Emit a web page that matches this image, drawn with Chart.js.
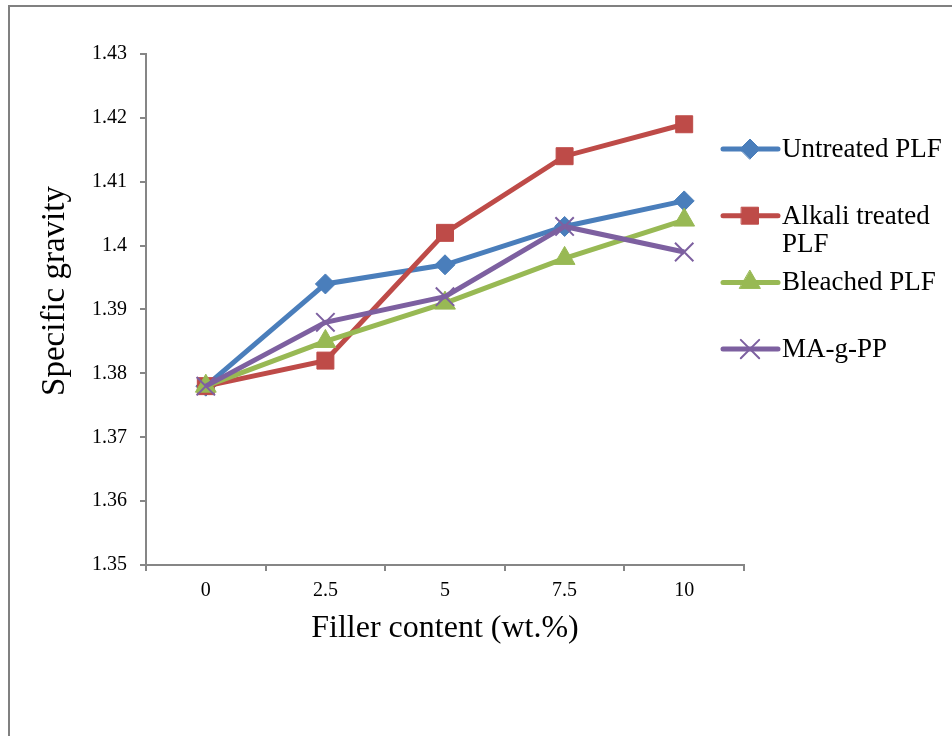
<!DOCTYPE html>
<html>
<head>
<meta charset="utf-8">
<style>
  html, body { margin: 0; padding: 0; background: #fff; }
  #wrap { width: 952px; height: 736px; position: relative; }
</style>
<script src="https://cdn.jsdelivr.net/npm/chart.js@4.4.0/dist/chart.umd.min.js"></script>
</head>
<body>
<div id="wrap"><canvas id="myChart" width="952" height="736"></canvas></div>
<script>
// values
const fillerContent = ['0', '2.5', '5', '7.5', '10'];
const seriesNames = ['Untreated PLF', 'Alkali treated PLF', 'Bleached PLF', 'MA-g-PP'];
const untreated = [1.378, 1.394, 1.397, 1.403, 1.407];
const alkaliTreated = [1.378, 1.382, 1.402, 1.414, 1.419];
const bleached = [1.378, 1.385, 1.391, 1.398, 1.404];
const maGpp = [1.378, 1.388, 1.392, 1.403, 1.399];
const yMin = 1.35, yMax = 1.43, yStep = 0.01;

const serif = "'Liberation Serif', 'Times New Roman', serif";
const axisGray = '#868686';

function series(label, data, color, style, radius, order) {
  return {
    label: label,
    data: data,
    borderColor: color,
    backgroundColor: color,
    borderWidth: 5,
    pointStyle: style,
    pointRadius: radius,
    pointBackgroundColor: color,
    pointBorderColor: color,
    pointBorderWidth: style === 'crossRot' ? 2 : 1,
    tension: 0,
    order: order
  };
}

const data = {
  labels: fillerContent,
  datasets: [
    series(seriesNames[0], untreated, '#4A7EBB', 'rectRot', 10, 4),
    series(seriesNames[1], alkaliTreated, '#BE4B48', 'rect', 12, 3),
    series(seriesNames[2], bleached, '#98B954', 'triangle', 12, 2),
    series(seriesNames[3], maGpp, '#7D60A0', 'crossRot', 13, 1)
  ]
};

// page frame + y title + legend on the right, drawn like the Excel original
const extras = {
  id: 'extras',
  beforeDraw(chart) {
    const ctx = chart.ctx;
    ctx.save();
    ctx.fillStyle = '#fff';
    ctx.fillRect(0, 0, chart.width, chart.height);
    ctx.fillStyle = '#808080';
    ctx.fillRect(8, 5, 2, chart.height - 5);
    ctx.fillRect(8, 5, chart.width - 8, 2);
    ctx.restore();
  },
  afterDraw(chart) {
    const ctx = chart.ctx;
    ctx.save();
    // y axis title
    ctx.fillStyle = '#000';
    ctx.font = '33px ' + serif;
    ctx.textAlign = 'center';
    ctx.textBaseline = 'alphabetic';
    ctx.translate(64, 291);
    ctx.rotate(-Math.PI / 2);
    ctx.fillText('Specific gravity', 0, 0);
    ctx.restore();

    // legend
    ctx.save();
    ctx.font = '27px ' + serif;
    ctx.textAlign = 'left';
    ctx.textBaseline = 'middle';
    chart.data.datasets.forEach((ds, i) => {
      const y = 149 + i * 66.7;
      ctx.strokeStyle = ds.borderColor;
      ctx.lineWidth = 5;
      ctx.lineCap = 'round';
      ctx.beginPath();
      ctx.moveTo(723, y);
      ctx.lineTo(778, y);
      ctx.stroke();
      ctx.fillStyle = ds.pointBackgroundColor;
      ctx.strokeStyle = ds.pointBorderColor;
      ctx.lineWidth = ds.pointBorderWidth;
      Chart.helpers.drawPoint(ctx, {
        pointStyle: ds.pointStyle,
        radius: ds.pointRadius,
        borderWidth: ds.pointBorderWidth,
        rotation: 0
      }, 750, y);
      // wrap the text
      const words = ds.label.split(' ');
      const lines = [];
      let cur = '';
      words.forEach(w => {
        const t = cur ? cur + ' ' + w : w;
        if (ctx.measureText(t).width > 166 && cur) {
          lines.push(cur);
          cur = w;
        } else {
          cur = t;
        }
      });
      lines.push(cur);
      ctx.fillStyle = '#000';
      lines.forEach((ln, k) => ctx.fillText(ln, 782, y + 1 + k * 28.5));
    });
    ctx.restore();
  }
};

const config = {
  type: 'line',
  data: data,
  options: {
    responsive: false,
    animation: false,
    layout: { padding: { left: 0, top: 54, right: 208, bottom: 0 } },
    plugins: {
      legend: { display: false },
      tooltip: { enabled: false }
    },
    scales: {
      x: {
        offset: true,
        grid: {
          offset: true,
          drawOnChartArea: false,
          drawTicks: true,
          tickLength: 6,
          color: axisGray,
          lineWidth: 2
        },
        border: { display: true, color: axisGray, width: 2 },
        ticks: {
          color: '#000',
          font: { family: serif, size: 20 },
          padding: 8,
          maxRotation: 0
        },
        title: {
          display: true,
          text: 'Filler content (wt.%)',
          color: '#000',
          font: { family: serif, size: 32 },
          padding: { top: 4, bottom: 88 }
        },
        afterFit(scale) { scale.height = 736 - 565; }
      },
      y: {
        min: yMin,
        max: yMax,
        grid: {
          drawOnChartArea: false,
          drawTicks: true,
          tickLength: 6,
          color: axisGray,
          lineWidth: 2
        },
        border: { display: true, color: axisGray, width: 2 },
        ticks: {
          stepSize: yStep,
          color: '#000',
          font: { family: serif, size: 20 },
          padding: 13,
          callback: v => String(parseFloat(Number(v).toFixed(2)))
        },
        afterFit(scale) { scale.width = 146; }
      }
    }
  },
  plugins: [extras]
};

const myChart = new Chart(document.getElementById('myChart').getContext('2d'), config);
</script>
</body>
</html>
